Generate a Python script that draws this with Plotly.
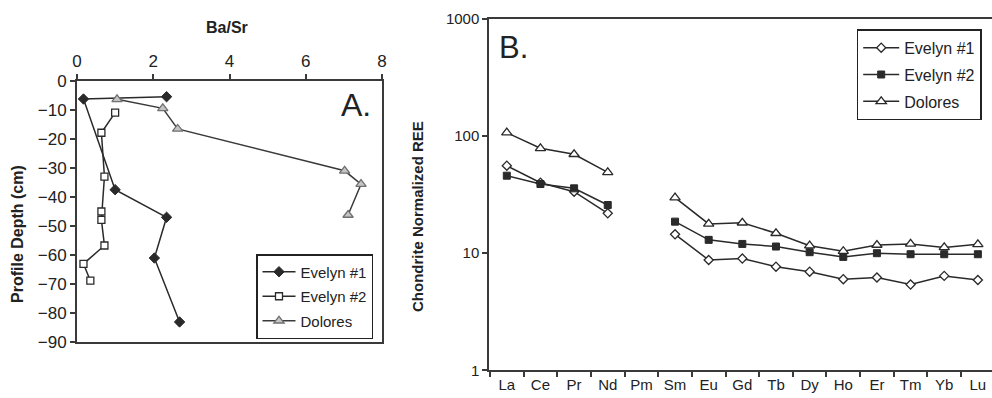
import plotly.graph_objects as go

# ---- Panel A data (Ba/Sr vs profile depth) ----
ev1_basr = [2.35, 0.17, 1.0, 2.35, 2.03, 2.69]
ev1_depth = [-5.5, -6.3, -37.5, -47, -61, -83]
ev2_basr = [1.0, 0.64, 0.72, 0.64, 0.64, 0.72, 0.17, 0.35]
ev2_depth = [-11, -17.9, -33, -45, -47.9, -56.7, -63, -68.8]
dol_basr = [1.05, 2.25, 2.64, 7.02, 7.45, 7.11]
dol_depth = [-6.4, -9.5, -16.6, -31, -35.6, -46.2]

# ---- Panel B data (chondrite normalized REE) ----
ree = ["La", "Ce", "Pr", "Nd", "Pm", "Sm", "Eu", "Gd", "Tb", "Dy", "Ho", "Er", "Tm", "Yb", "Lu"]
ev1_ree = [55.9, 40, 33.5, 21.9, None, 14.5, 8.75, 9.0, 7.67, 6.95, 6.0, 6.2, 5.4, 6.4, 5.9]
ev2_ree = [45.9, 39, 35.8, 25.8, None, 18.6, 13.0, 12.0, 11.4, 10.2, 9.3, 10.0, 9.8, 9.8, 9.8]
dol_ree = [107, 78.7, 70, 49, None, 29.8, 17.8, 18.2, 14.8, 11.6, 10.4, 11.75, 12.0, 11.2, 11.9]

FONT = "Liberation Sans, Arial, sans-serif"
DARK = "#2a2a2a"
AX = "#3a3a3a"

fig = go.Figure()

# Panel A
fig.add_trace(go.Scatter(x=ev1_basr, y=ev1_depth, mode="lines+markers", name="Evelyn #1",
                         line=dict(color=DARK, width=1.5), legendgroup="a1",
                         marker=dict(symbol="diamond", size=8, color=DARK, line=dict(color=DARK, width=1)),
                         xaxis="x", yaxis="y", legend="legend"))
fig.add_trace(go.Scatter(x=ev2_basr, y=ev2_depth, mode="lines+markers", name="Evelyn #2",
                         line=dict(color=DARK, width=1.5), legendgroup="a2",
                         marker=dict(symbol="square", size=7, color="white", line=dict(color=DARK, width=1.3)),
                         xaxis="x", yaxis="y", legend="legend"))
fig.add_trace(go.Scatter(x=dol_basr, y=dol_depth, mode="lines+markers", name="Dolores",
                         line=dict(color="#3a3a3a", width=1.5), legendgroup="a3",
                         marker=dict(symbol="triangle-up", size=9, color="#c4c4c4", line=dict(color="#707070", width=1.3)),
                         xaxis="x", yaxis="y", legend="legend"))

# Panel B
fig.add_trace(go.Scatter(x=ree, y=ev1_ree, mode="lines+markers", name="Evelyn #1",
                         line=dict(color=DARK, width=1.5), legendgroup="b1",
                         marker=dict(symbol="diamond", size=7, color="white", line=dict(color=DARK, width=1.3)),
                         xaxis="x2", yaxis="y2", legend="legend2"))
fig.add_trace(go.Scatter(x=ree, y=ev2_ree, mode="lines+markers", name="Evelyn #2",
                         line=dict(color=DARK, width=1.5), legendgroup="b2",
                         marker=dict(symbol="square", size=7, color=DARK, line=dict(color=DARK, width=1)),
                         xaxis="x2", yaxis="y2", legend="legend2"))
fig.add_trace(go.Scatter(x=ree, y=dol_ree, mode="lines+markers", name="Dolores",
                         line=dict(color=DARK, width=1.5), legendgroup="b3",
                         marker=dict(symbol="triangle-up", size=9, color="white", line=dict(color=DARK, width=1.3)),
                         xaxis="x2", yaxis="y2", legend="legend2"))

tickfont = dict(family=FONT, size=17, color="#222")

fig.update_layout(
    template="none",
    width=992, height=398,
    margin=dict(l=0, r=0, t=0, b=0, pad=0),
    paper_bgcolor="white", plot_bgcolor="white",
    font=dict(family=FONT, color="#222"),
    showlegend=True,
    xaxis=dict(domain=[77/992, 382/992], range=[0, 8], dtick=2, side="top", automargin=False,
               showline=True, mirror=True, linecolor=AX, linewidth=2,
               ticks="outside", ticklen=5, tickcolor=AX, tickwidth=1.5,
               showgrid=False, zeroline=False, tickfont=tickfont, anchor="y"),
    yaxis=dict(domain=[1 - 342.3/398, 1 - 80.7/398], range=[-90, 0], dtick=10, automargin=False,
               showline=True, mirror=True, linecolor=AX, linewidth=2,
               ticks="outside", ticklen=5, tickcolor=AX, tickwidth=1.5,
               showgrid=False, zeroline=False, tickfont=tickfont, anchor="x"),
    xaxis2=dict(domain=[489.3/992, 1.0], type="category", range=[-0.52, 14.42], automargin=False,
                tickson="boundaries", ticks="outside", ticklen=5, tickcolor=AX, tickwidth=1.5,
                showline=True, mirror=True, linecolor=AX, linewidth=2,
                showgrid=False, zeroline=False, tickfont=dict(family=FONT, size=15, color="#222"),
                anchor="y2"),
    yaxis2=dict(domain=[1 - 370.3/398, 1 - 19/398], type="log", range=[0, 3], automargin=False,
                tickvals=[1, 10, 100, 1000], ticktext=["1", "10", "100", "1000"],
                ticks="outside", ticklen=5, tickcolor=AX, tickwidth=1.5,
                showline=True, linecolor=AX, linewidth=2,
                showgrid=False, zeroline=False, tickfont=dict(family=FONT, size=15, color="#222"),
                anchor="x2"),
    legend=dict(x=256/992, y=1 - 254/398, xanchor="left", yanchor="top",
                bordercolor="#222", borderwidth=1.5, bgcolor="white", itemwidth=33,
                font=dict(family=FONT, size=15, color="#222"), tracegroupgap=2),
    legend2=dict(x=856.7/992, y=1 - 29.3/398, xanchor="left", yanchor="top",
                 bordercolor="#222", borderwidth=1.5, bgcolor="white", itemwidth=36,
                 font=dict(family=FONT, size=16, color="#222"), tracegroupgap=3),
    annotations=[
        dict(text="<b>Ba/Sr</b>", x=227/992, y=1 - 28/398, xref="paper", yref="paper",
             xanchor="center", yanchor="middle",
             showarrow=False, font=dict(family=FONT, size=16, color="#222")),
        dict(text="<b>Profile Depth (cm)</b>", x=17/992, y=1 - 234/398, xref="paper", yref="paper",
             xanchor="center", yanchor="middle",
             showarrow=False, textangle=-90, font=dict(family=FONT, size=16, color="#222")),
        dict(text="<b>Chondrite Normalized REE</b>", x=417/992, y=1 - 217/398, xref="paper", yref="paper",
             xanchor="center", yanchor="middle",
             showarrow=False, textangle=-90, font=dict(family=FONT, size=15, color="#222")),
        dict(text="A.", x=356/992, y=1 - 105/398, xref="paper", yref="paper",
             xanchor="center", yanchor="middle",
             showarrow=False, font=dict(family=FONT, size=32, color="#222")),
        dict(text="B.", x=513/992, y=1 - 47/398, xref="paper", yref="paper",
             xanchor="center", yanchor="middle",
             showarrow=False, font=dict(family=FONT, size=31, color="#222")),
    ],
)

fig.write_html("out.html", config={"displayModeBar": False},
               post_script="document.body.style.margin='0';")
